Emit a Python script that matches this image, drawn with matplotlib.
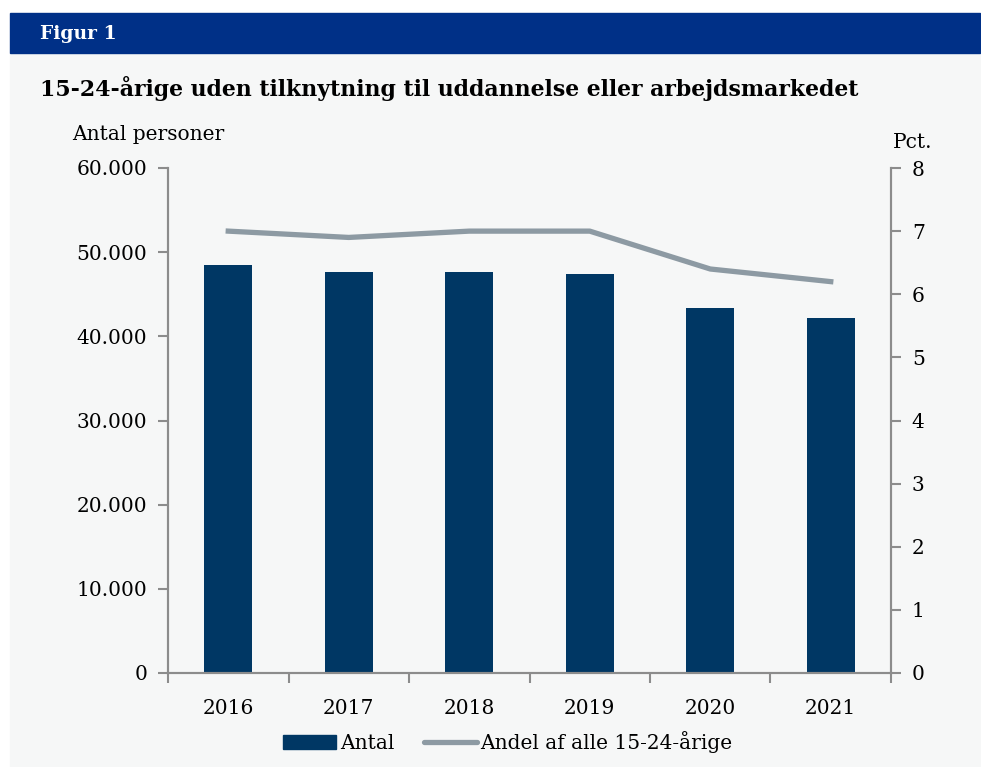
import matplotlib.pyplot as plt
import matplotlib.patches as mpatches
from matplotlib.lines import Line2D
import numpy as np

plt.rcParams['font.family'] = ['DejaVu Serif']

aar = ['2016', '2017', '2018', '2019', '2020', '2021']
antal = [48500, 47600, 47600, 47400, 43400, 42200]
andel = [7.0, 6.9, 7.0, 7.0, 6.4, 6.2]

bg = '#f6f7f7'
blaa = '#003764'
graa_linje = '#8d9aa3'
spine = '#8c8c8c'

fig = plt.figure(figsize=(9.81, 7.67), dpi=100)
fig.patch.set_facecolor('white')

# baggrund og header
fig.add_artist(mpatches.Rectangle((10/981, 0), 970/981, (767-53)/767,
                                  transform=fig.transFigure, color=bg, zorder=-10))
fig.add_artist(mpatches.Rectangle((10/981, (767-53)/767), 970/981, 40/767,
                                  transform=fig.transFigure, color='#003087', zorder=-10))
fig.text(40/981, 1 - 34/767, 'Figur 1', color='white', fontsize=13.5, fontweight='bold',
         va='center', ha='left')
fig.text(40/981, 1 - 88/767, '15-24-årige uden tilknytning til uddannelse eller arbejdsmarkedet',
         fontsize=15.8, fontweight='bold', va='center', ha='left')

ax = fig.add_axes([168/981, 1 - 673/767, (891-168)/981, (673-168)/767])
ax.set_facecolor(bg)
x = np.arange(len(aar))
ax.bar(x, antal, width=0.4, color=blaa, zorder=2)
ax.set_xlim(-0.5, 5.5)
ax.set_ylim(0, 60000)
ax.set_yticks(range(0, 60001, 10000))
ax.set_yticklabels(['0' if v == 0 else f'{v:,}'.replace(',', '.') for v in range(0, 60001, 10000)])
ax.set_xticks(x)
ax.set_xticklabels(aar)
ax.set_xticks(np.arange(-0.5, 6, 1), minor=True)
ax.tick_params(axis='x', which='major', length=0, pad=19, labelsize=14.5)
ax.tick_params(axis='x', which='minor', length=7, color=spine, width=1.5)
ax.tick_params(axis='y', length=7, color=spine, width=1.5, labelsize=14.5, pad=8)

ax.spines['top'].set_visible(False)
for s in ['left', 'bottom', 'right']:
    ax.spines[s].set_color(spine)
    ax.spines[s].set_linewidth(1.5)

ax2 = ax.twinx()
ax2.plot(x, andel, color=graa_linje, linewidth=3.8, zorder=3)
ax2.set_ylim(0, 8)
ax2.set_yticks(range(0, 9))
ax2.tick_params(axis='y', length=7, color=spine, width=1.5, labelsize=14.5, pad=8)
ax2.spines['top'].set_visible(False)
for s in ['left', 'bottom', 'right']:
    ax2.spines[s].set_color(spine)
    ax2.spines[s].set_linewidth(1.5)

fig.text(72/981, 1 - 134/767, 'Antal personer', fontsize=14.5, va='center', ha='left')
fig.text(913/981, 1 - 143/767, 'Pct.', fontsize=14.5, va='center', ha='center')

handles = [mpatches.Patch(color=blaa, label='Antal'),
           Line2D([0], [0], color=graa_linje, linewidth=3.8, solid_capstyle='round',
                  label='Andel af alle 15-24-årige')]
fig.legend(handles=handles, loc='center', bbox_to_anchor=(508/981, 1 - 742/767), ncol=2,
           frameon=False, fontsize=14.5, handlelength=2.6, handletextpad=0.2, columnspacing=1.5)

fig.savefig('out.png', dpi=100, facecolor=fig.get_facecolor())
